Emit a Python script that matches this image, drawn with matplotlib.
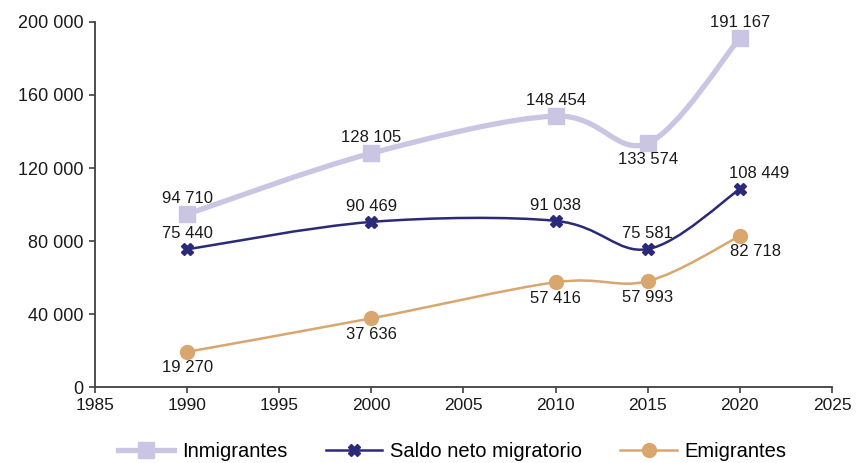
import matplotlib
matplotlib.use('Agg')
import matplotlib.pyplot as plt
from matplotlib.path import Path
from matplotlib.patches import PathPatch
from matplotlib.lines import Line2D
from matplotlib.ticker import FuncFormatter

plt.rcParams['font.family'] = ['Liberation Sans', 'DejaVu Sans']

years = [1990, 2000, 2010, 2015, 2020]
inmigrantes = [94710, 128105, 148454, 133574, 191167]
saldo = [75440, 90469, 91038, 75581, 108449]
emigrantes = [19270, 37636, 57416, 57993, 82718]


def fmt(v):
    return f'{int(v):,}'.replace(',', ' ')


def smooth_path(xs, ys):
    # cubic Bezier through the points, Catmull-Rom style control points
    pts = list(zip(xs, ys))
    verts = [pts[0]]
    codes = [Path.MOVETO]
    n = len(pts)
    for i in range(n - 1):
        p0 = pts[i - 1] if i > 0 else pts[i]
        p1 = pts[i]
        p2 = pts[i + 1]
        p3 = pts[i + 2] if i + 2 < n else pts[i + 1]
        c1 = (p1[0] + (p2[0] - p0[0]) / 6, p1[1] + (p2[1] - p0[1]) / 6)
        c2 = (p2[0] - (p3[0] - p1[0]) / 6, p2[1] - (p3[1] - p1[1]) / 6)
        verts += [c1, c2, p2]
        codes += [Path.CURVE4] * 3
    return Path(verts, codes)


fig = plt.figure(figsize=(8.58, 4.63), dpi=100)
ax = fig.add_axes([0.1107, 0.1641, 0.8590, 0.7884])

series = [
    ('Inmigrantes', inmigrantes, '#c9c5e3', 3.8, 's', 11, 2),
    ('Saldo neto migratorio', saldo, '#2b2a7a', 1.8, 'X', 9, 3),
    ('Emigrantes', emigrantes, '#d9a66e', 1.8, 'o', 10, 4),
]

handles = []
for name, vals, color, lw, mk, ms, z in series:
    ax.add_patch(PathPatch(smooth_path(years, vals), facecolor='none',
                           edgecolor=color, lw=lw, zorder=z, capstyle='round'))
    ax.plot(years, vals, linestyle='none', marker=mk, markersize=ms,
            color=color, markeredgecolor=color, zorder=z + 0.5)
    handles.append(Line2D([], [], color=color, lw=lw, marker=mk,
                          markersize=ms, label=name))

# value labels: (series values, positions above/below, x offsets in points)
label_specs = [
    (inmigrantes, ['up', 'up', 'up', 'down', 'up'], [0, 0, 0, 0, 0]),
    (saldo, ['up', 'up', 'up', 'up', 'up'], [0, 0, 0, 0, 14]),
    (emigrantes, ['down', 'down', 'down', 'down', 'down'], [0, 0, 0, 0, 11]),
]
for vals, pos, dx in label_specs:
    for x, v, p, d in zip(years, vals, pos, dx):
        if p == 'up':
            ax.annotate(fmt(v), (x, v), xytext=(d, 6), textcoords='offset points',
                        ha='center', va='bottom', fontsize=12, color='#1a1a1a', zorder=6)
        else:
            ax.annotate(fmt(v), (x, v), xytext=(d, -6), textcoords='offset points',
                        ha='center', va='top', fontsize=12, color='#1a1a1a', zorder=6)

ax.set_xlim(1985, 2025)
ax.set_ylim(0, 200000)
ax.set_xticks(range(1985, 2026, 5))
ax.set_yticks(range(0, 200001, 40000))
ax.yaxis.set_major_formatter(FuncFormatter(lambda v, _: fmt(v)))

for s in ['top', 'right']:
    ax.spines[s].set_visible(False)
for s in ['left', 'bottom']:
    ax.spines[s].set_color('#404040')
    ax.spines[s].set_linewidth(1.3)
ax.tick_params(direction='out', length=4, width=1.2, color='#404040',
               labelsize=13, labelcolor='#1a1a1a')
ax.tick_params(axis='y', pad=4)
ax.tick_params(axis='x', pad=4, labelsize=12.5)

fig.legend(handles=handles, loc='lower center', ncol=3, frameon=False,
           fontsize=14.5, handlelength=2.8, handletextpad=0.4, columnspacing=1.9,
           bbox_to_anchor=(0.527, -0.035))

fig.savefig('out.png', dpi=100)
